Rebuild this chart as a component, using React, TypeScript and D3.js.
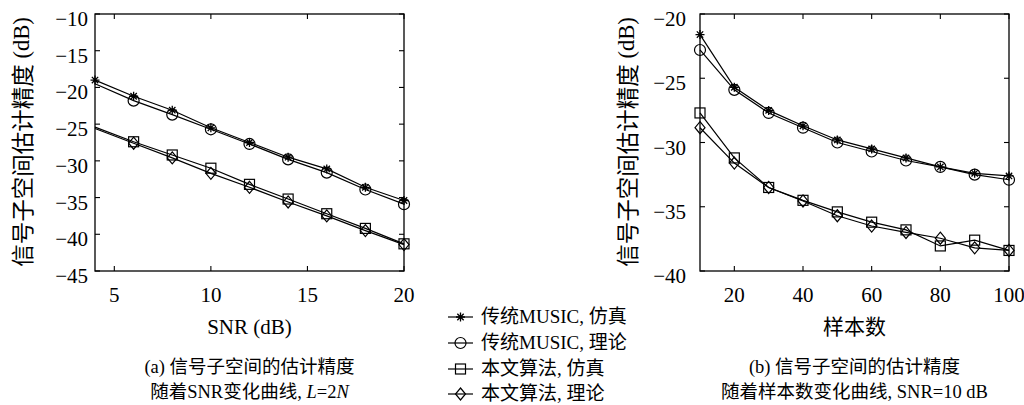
import React from "react";
import * as d3 from "d3";

// ---- data ----
const snrX = [4, 6, 8, 10, 12, 14, 16, 18, 20];
const snrMusicSim = [-19.0, -21.2, -23.1, -25.5, -27.5, -29.5, -31.1, -33.6, -35.4];
const snrMusicThe = [-19.5, -21.8, -23.7, -25.7, -27.7, -29.8, -31.6, -33.9, -35.9];
const snrOurSim = [-25.4, -27.4, -29.2, -31.0, -33.2, -35.2, -37.2, -39.2, -41.3];
const snrOurThe = [-25.6, -27.6, -29.6, -31.7, -33.6, -35.6, -37.5, -39.5, -41.4];

const nX = [10, 20, 30, 40, 50, 60, 70, 80, 90, 100];
const nMusicSim = [-21.6, -25.7, -27.5, -28.7, -29.8, -30.5, -31.2, -31.9, -32.4, -32.6];
const nMusicThe = [-22.8, -25.9, -27.7, -28.85, -30.0, -30.7, -31.4, -31.9, -32.5, -32.9];
const nOurSim = [-27.7, -31.2, -33.5, -34.5, -35.4, -36.2, -36.8, -38.05, -37.6, -38.4];
const nOurThe = [-28.85, -31.6, -33.5, -34.55, -35.7, -36.5, -37.0, -37.45, -38.2, -38.4];

const seriesNames = ["传统MUSIC, 仿真", "传统MUSIC, 理论", "本文算法, 仿真", "本文算法, 理论"];
const markerTypes = ["star", "circle", "square", "diamond"];

const leftXTicks = [5, 10, 15, 20];
const leftYTicks = [-10, -15, -20, -25, -30, -35, -40, -45];
const rightXTicks = [20, 40, 60, 80, 100];
const rightYTicks = [-20, -25, -30, -35, -40];

const FONT = "Liberation Serif, Times New Roman, DejaVu Serif, serif";
const CJK = "Noto Sans CJK SC, Liberation Serif, serif";

function fmt(v: number) {
  return v < 0 ? "\u2212" + Math.abs(v) : String(v);
}

function Marker({ type, x, y }: { type: string; x: number; y: number }) {
  const common = { fill: "none", stroke: "#000", strokeWidth: 1.2 };
  if (type === "circle") return <circle cx={x} cy={y} r={5.5} {...common} />;
  if (type === "square") return <rect x={x - 5} y={y - 5} width={10} height={10} {...common} />;
  if (type === "diamond")
    return <path d={`M${x},${y - 6}L${x + 5},${y}L${x},${y + 6}L${x - 5},${y}Z`} {...common} />;
  const r = 4.5;
  const d: string[] = [];
  for (let k = 0; k < 4; k++) {
    const a = (k * Math.PI) / 4;
    d.push(`M${x - r * Math.cos(a)},${y - r * Math.sin(a)}L${x + r * Math.cos(a)},${y + r * Math.sin(a)}`);
  }
  return <path d={d.join("")} stroke="#000" strokeWidth={1.3} fill="none" />;
}

type PanelProps = {
  x0: number; x1: number; y0: number; y1: number;
  xDom: [number, number]; yDom: [number, number];
  xs: number[]; ys: number[][]; markStart: number[];
  xTicks: number[]; yTicks: number[];
  yLabelX: number; yTickGap: number;
  xTitle: React.ReactNode; cap1: React.ReactNode; cap2: React.ReactNode;
};

function Panel(p: PanelProps) {
  const xs = d3.scaleLinear().domain(p.xDom).range([p.x0, p.x1]);
  const ys = d3.scaleLinear().domain(p.yDom).range([p.y1, p.y0]);
  const line = d3.line<[number, number]>().x((d) => xs(d[0])).y((d) => ys(d[1]));
  const cx = (p.x0 + p.x1) / 2;
  const tl = 5;
  return (
    <g>
      {p.ys.map((s, i) => (
        <path key={"l" + i} d={line(p.xs.map((x, j) => [x, s[j]] as [number, number])) || ""} fill="none" stroke="#000" strokeWidth={1.2} />
      ))}
      {p.ys.map((s, i) => (
        <g key={"m" + i}>
          {p.xs.map((x, j) => (j >= p.markStart[i] ? <Marker key={j} type={markerTypes[i]} x={xs(x)} y={ys(s[j])} /> : null))}
        </g>
      ))}
      <rect x={p.x0} y={p.y0} width={p.x1 - p.x0} height={p.y1 - p.y0} fill="none" stroke="#000" strokeWidth={1.3} />
      {p.xTicks.map((t) => (
        <g key={"xt" + t}>
          <line x1={xs(t)} x2={xs(t)} y1={p.y1} y2={p.y1 - tl} stroke="#000" strokeWidth={1.1} />
          <line x1={xs(t)} x2={xs(t)} y1={p.y0} y2={p.y0 + tl} stroke="#000" strokeWidth={1.1} />
          <text x={xs(t)} y={302} textAnchor="middle" fontFamily={FONT} fontSize={21}>{fmt(t)}</text>
        </g>
      ))}
      {p.yTicks.map((t) => (
        <g key={"yt" + t}>
          <line x1={p.x0} x2={p.x0 + tl} y1={ys(t)} y2={ys(t)} stroke="#000" strokeWidth={1.1} />
          <line x1={p.x1} x2={p.x1 - tl} y1={ys(t)} y2={ys(t)} stroke="#000" strokeWidth={1.1} />
          <text x={p.x0 - p.yTickGap} y={ys(t) + 12} textAnchor="end" fontFamily={FONT} fontSize={21}>{fmt(t)}</text>
        </g>
      ))}
      <text transform={`translate(${p.yLabelX},142) rotate(-90)`} textAnchor="middle" dominantBaseline="central" fontSize={22.5}>
        <tspan fontFamily={CJK}>信号子空间估计精度</tspan><tspan fontFamily={FONT}> (dB)</tspan>
      </text>
      <text x={cx} y={334} textAnchor="middle" fontSize={21}>{p.xTitle}</text>
      <text x={cx} y={373} textAnchor="middle" fontSize={18.5}>{p.cap1}</text>
      <text x={cx} y={398} textAnchor="middle" fontSize={18.5}>{p.cap2}</text>
    </g>
  );
}

export default function App() {
  const legendY = [317, 343, 369, 394];
  return (
    <svg width={1024} height={405} style={{ position: "absolute", left: 0, top: 0, background: "#fff" }}>
      <Panel
        x0={95} x1={404} y0={14} y1={271}
        xDom={[4, 20]} yDom={[-45, -10]}
        xs={snrX} ys={[snrMusicSim, snrMusicThe, snrOurSim, snrOurThe]} markStart={[0, 1, 1, 1]}
        xTicks={leftXTicks} yTicks={leftYTicks}
        yLabelX={21} yTickGap={7}
        xTitle={<tspan fontFamily={FONT}>SNR (dB)</tspan>}
        cap1={<><tspan fontFamily={FONT}>(a) </tspan><tspan fontFamily={CJK}>信号子空间的估计精度</tspan></>}
        cap2={<><tspan fontFamily={CJK}>随着</tspan><tspan fontFamily={FONT}>SNR</tspan><tspan fontFamily={CJK}>变化曲线</tspan><tspan fontFamily={FONT}>, </tspan><tspan fontFamily={FONT} fontStyle="italic">L</tspan><tspan fontFamily={FONT}>=2</tspan><tspan fontFamily={FONT} fontStyle="italic">N</tspan></>}
      />
      <Panel
        x0={700} x1={1009} y0={14} y1={271}
        xDom={[10, 100]} yDom={[-40, -20]}
        xs={nX} ys={[nMusicSim, nMusicThe, nOurSim, nOurThe]} markStart={[0, 0, 0, 0]}
        xTicks={rightXTicks} yTicks={rightYTicks}
        yLabelX={626} yTickGap={14}
        xTitle={<tspan fontFamily={CJK}>样本数</tspan>}
        cap1={<><tspan fontFamily={FONT}>(b) </tspan><tspan fontFamily={CJK}>信号子空间的估计精度</tspan></>}
        cap2={<><tspan fontFamily={CJK}>随着样本数变化曲线</tspan><tspan fontFamily={FONT}>, SNR=10 dB</tspan></>}
      />
      {seriesNames.map((name, i) => (
        <g key={name}>
          <line x1={448} x2={473} y1={legendY[i]} y2={legendY[i]} stroke="#000" strokeWidth={1.2} />
          <Marker type={markerTypes[i]} x={460.5} y={legendY[i]} />
          <text x={481} y={legendY[i] + 6} fontSize={19}>
            {name.split(/(MUSIC|, )/).filter((s) => s.length).map((part, k) => (
              <tspan key={k} fontFamily={part === "MUSIC" || part === ", " ? FONT : CJK}>{part}</tspan>
            ))}
          </text>
        </g>
      ))}
    </svg>
  );
}
